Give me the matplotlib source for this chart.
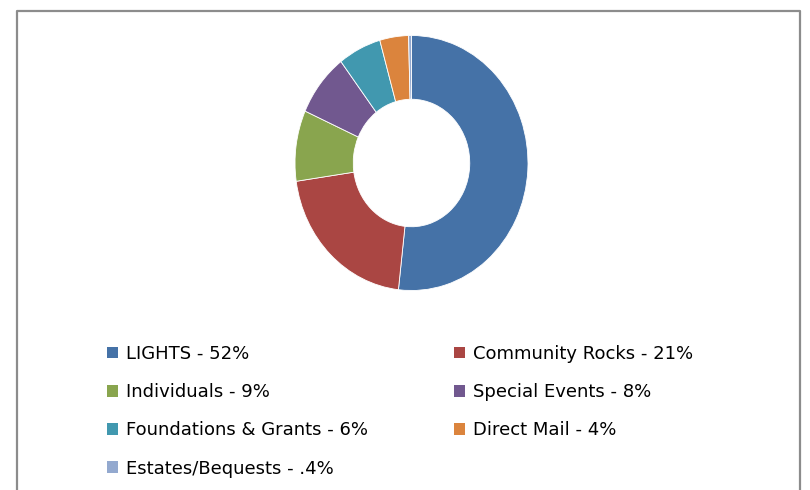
import matplotlib
matplotlib.use("Agg")
import matplotlib.pyplot as plt
from matplotlib.lines import Line2D

categories = ["LIGHTS - 52%", "Community Rocks - 21%", "Individuals - 9%",
              "Special Events - 8%", "Foundations & Grants - 6%",
              "Direct Mail - 4%", "Estates/Bequests - .4%"]
values = [52, 21, 9, 8, 6, 4, 0.4]
colors = ["#4572A7", "#AA4643", "#89A54E", "#71588F", "#4198AF", "#DB843D", "#93A9CF"]

W, H = 810, 490
fig = plt.figure(figsize=(W / 100, H / 100), dpi=100)
fig.patch.set_facecolor("white")

cx, cy, rx, ry = 411.5, 163, 116.5, 127.5
ax = fig.add_axes([(cx - rx) / W, (H - cy - ry) / H, 2 * rx / W, 2 * ry / H])
wedges, _ = ax.pie(values, colors=colors, startangle=90, counterclock=False,
                   radius=1, wedgeprops=dict(width=0.5, edgecolor="white", linewidth=0.6))
ax.set_aspect("auto")
ax.set_xlim(-1, 1)
ax.set_ylim(-1, 1)
ax.axis("off")

# frame (left, top, right; bottom open beyond image)
fx0, fx1, fy0 = 16.5 / W, 799.5 / W, 1 - 11.5 / H
fig.add_artist(Line2D([fx0, fx0, fx1, fx1], [0, fy0, fy0, 0], transform=fig.transFigure,
                      color="#8c8c8c", linewidth=1.6))

fs = 13
common = dict(frameon=False, fontsize=fs, handlelength=0.62, handleheight=0.62,
              handletextpad=0.45, labelspacing=1.12, borderaxespad=0, borderpad=0,
              loc="upper left")
left_idx = [0, 2, 4, 6]
right_idx = [1, 3, 5]
leg1 = fig.legend([wedges[i] for i in left_idx], [categories[i] for i in left_idx],
                  bbox_to_anchor=(107 / W, 1 - 345 / H), **common)
leg2 = fig.legend([wedges[i] for i in right_idx], [categories[i] for i in right_idx],
                  bbox_to_anchor=(454 / W, 1 - 345 / H), **common)
for leg in (leg1, leg2):
    for h in leg.legend_handles:
        h.set_edgecolor("none")

fig.savefig("out.png", dpi=100)
